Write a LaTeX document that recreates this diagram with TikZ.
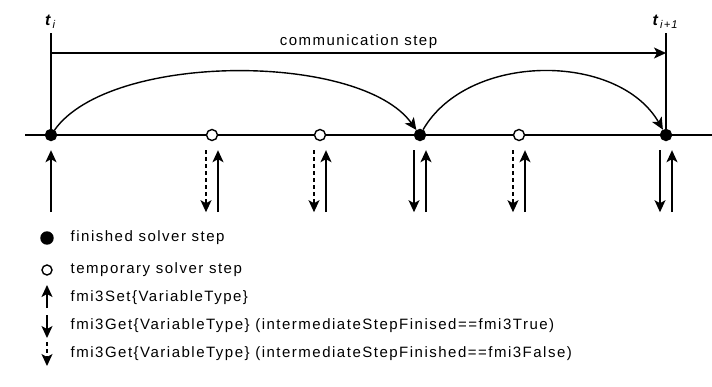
\documentclass[tikz,border=0pt]{standalone}
\usepackage{fontspec}
\setmainfont{Liberation Sans}[LetterSpace=10]
\usetikzlibrary{arrows.meta,positioning,calc}

\begin{document}
\begin{tikzpicture}[x=1pt,y=-1pt,line width=1.4pt,
  tip/.style={-{Stealth[length=12pt,width=11pt,inset=3pt]}},
  dots/.style={dash pattern=on 4pt off 3pt},
  done/.style={circle,fill=black,draw=black,inner sep=0pt,minimum size=11pt},
  temp/.style={circle,fill=white,draw=black,inner sep=0pt,minimum size=11pt},
  lbl/.style={anchor=west,inner sep=0pt,font=\fontsize{15}{17}\selectfont}
]
\useasboundingbox (0,0) rectangle (712,386);

% time axis
\coordinate (axl) at (25,135);
\coordinate (axr) at (712,135);
\draw (axl) -- (axr);

% solver steps
\node[done] (s0) at (51,135) {};
\node[temp] (s1) at (212,135) {};
\node[temp] (s2) at (320,135) {};
\node[done] (s3) at (420,135) {};
\node[temp] (s4) at (519,135) {};
\node[done] (s5) at (666,135) {};

% communication points
\coordinate (ti) at (51,33);
\coordinate (tn) at (666,33);
\node[above=4pt of ti,inner sep=0pt,font=\fontsize{16}{18}\selectfont] (tilbl)
  {\textbf{\textit{t}}\textsubscript{\textit{i}}};
\node[above=4pt of tn,inner sep=0pt,font=\fontsize{16}{18}\selectfont] (tnlbl)
  {\textbf{\textit{t}}\textsubscript{\textit{i+1}}};
\draw (ti) -- (s0.center);
\draw (tn) -- (s5.center);

\coordinate (ca) at (51,53);
\coordinate (cb) at (666,53);
\draw[tip] (ca) -- (cb)
  node[midway,above=4pt,inner sep=0pt,font=\fontsize{15}{17}\selectfont] (comm) {communication step};

% solver steps taken
\draw[tip] (s0) .. controls (110,52) and (360,52) .. (s3);
\draw[tip] (s3) .. controls (468,52) and (618,52) .. (s5);

% get/set calls
\draw[tip] ($(s0.south)+(0,71)$) -- ++(0,-62);
\foreach \n/\how in {s1/dots,s2/dots,s3/solid,s4/dots,s5/solid} {
  \draw[tip,\how] ($(\n.south)+(-6,9)$) -- ++(0,62);
  \draw[tip] ($(\n.south)+(6,71)$) -- ++(0,-62);
}

% legend
\node[done,minimum size=12pt] (k1) at (47,238) {};
\node[temp,minimum size=10pt] (k2) at (47,270) {};
\coordinate (k3a) at (47,308); \coordinate (k3b) at (47,285);
\coordinate (k4a) at (47,315); \coordinate (k4b) at (47,338);
\coordinate (k5a) at (47,342); \coordinate (k5b) at (47,366);
\draw[tip] (k3a) -- (k3b);
\draw[tip] (k4a) -- (k4b);
\draw[tip,dots] (k5a) -- (k5b);

\node[lbl] (l1) at (70,238) {finished solver step};
\node[lbl] (l2) at (70,270) {temporary solver step};
\node[lbl] (l3) at (70,298) {fmi3Set\{VariableType\}};
\node[lbl] (l4) at (70,326) {fmi3Get\{VariableType\} (intermediateStepFinised==fmi3True)};
\node[lbl] (l5) at (70,354) {fmi3Get\{VariableType\} (intermediateStepFinished==fmi3False)};
\end{tikzpicture}
\end{document}
